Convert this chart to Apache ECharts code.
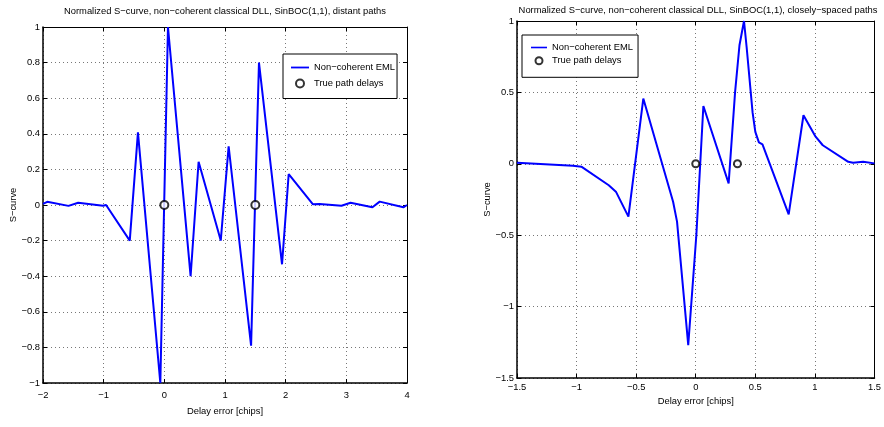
<!DOCTYPE html>
<html>
<head>
<meta charset="utf-8">
<script src="https://cdn.jsdelivr.net/npm/echarts@6/dist/echarts.min.js"></script>
<style>
html,body{margin:0;padding:0;background:#fff;}
#c{width:884px;height:427px;}
</style>
</head>
<body>
<div id="c"></div>
<script>
// ---------- data ----------
const leftTitle = 'Normalized S\u2212curve, non\u2212coherent classical DLL, SinBOC(1,1), distant paths';
const rightTitle = 'Normalized S\u2212curve, non\u2212coherent classical DLL, SinBOC(1,1), closely\u2212spaced paths';
const xName = 'Delay error [chips]';
const yName = 'S\u2212curve';
const lineName = 'Non\u2212coherent EML';
const pathName = 'True path delays';

const leftX = [-2, -1.93, -1.58, -1.42, -1.01, -0.96, -0.57, -0.435, -0.066, 0.06, 0.433, 0.565, 0.93, 1.06, 1.43, 1.56, 1.94, 2.05, 2.45, 2.56, 2.92, 3.07, 3.43, 3.55, 3.94, 4];
const leftY = [0.006, 0.018, -0.005, 0.013, -0.004, 0, -0.2, 0.408, -1, 1, -0.4, 0.243, -0.2, 0.33, -0.79, 0.8, -0.333, 0.174, 0.004, 0.006, -0.004, 0.013, -0.013, 0.019, -0.013, 0];
const leftDelays = [0, 1.5];

const rightX = [-1.5, -1.03, -0.96, -0.73, -0.67, -0.565, -0.44, -0.19, -0.157, -0.063, 0.005, 0.064, 0.276, 0.33, 0.367, 0.405, 0.427, 0.477, 0.5, 0.53, 0.56, 0.78, 0.904, 1.006, 1.066, 1.28, 1.32, 1.405, 1.5];
const rightY = [0.007, -0.014, -0.02, -0.15, -0.195, -0.37, 0.457, -0.266, -0.405, -1.27, -0.5, 0.405, -0.137, 0.5, 0.83, 1, 0.818, 0.36, 0.224, 0.15, 0.136, -0.354, 0.34, 0.19, 0.13, 0.014, 0.007, 0.014, 0.003];
const rightDelays = [0, 0.35];

const leftXTicks = {min: -2, max: 4, interval: 1};
const leftYTicks = {min: -1, max: 1, interval: 0.2};
const rightXTicks = {min: -1.5, max: 1.5, interval: 0.5};
const rightYTicks = {min: -1.5, max: 1, interval: 0.5};

// ---------- chart ----------
const FONT = "'Liberation Sans', Arial, Helvetica, sans-serif";
const FS = 9.4;
const fmt = v => { const r = Math.round(v * 10) / 10; return (r < 0 ? '\u2212' : '') + Math.abs(r); };
const zip = (xs, ys) => xs.map((x, i) => [x, ys[i]]);

function mainAxis(t, gridIndex, pos, extra, labelMargin) {
  return Object.assign({
    type: 'value', gridIndex, position: pos, min: t.min, max: t.max, interval: t.interval,
    axisLine: {show: true, onZero: false, lineStyle: {color: '#000', width: 1.5}},
    axisTick: {show: true, inside: true, length: 4, lineStyle: {color: '#000'}},
    axisLabel: {show: true, formatter: fmt, color: '#000', fontSize: FS, fontFamily: FONT, margin: labelMargin},
    splitLine: {show: true, lineStyle: {color: '#777', type: [1, 3], width: 1}},
    nameTextStyle: {color: '#000', fontSize: FS, fontFamily: FONT}
  }, extra || {});
}
function mirrorAxis(t, gridIndex, pos) {
  return {
    type: 'value', gridIndex, position: pos, min: t.min, max: t.max, interval: t.interval,
    axisLine: {show: true, onZero: false, lineStyle: {color: '#000', width: 1}},
    axisTick: {show: true, inside: true, length: 4, lineStyle: {color: '#000'}},
    axisLabel: {show: false}, splitLine: {show: false}
  };
}

const lineIcon = 'path://M0,0 M20,8 M0,3 L20,3 L20,5 L0,5 Z';

const chart = echarts.init(document.getElementById('c'), null, {renderer: 'canvas'});
chart.setOption({
  backgroundColor: '#fff',
  animation: false,
  grid: [
    {left: 43, top: 27, width: 364, height: 356, containLabel: false},
    {left: 517, top: 21, width: 363, height: 357, containLabel: false}
  ],
  xAxis: [
    mainAxis(leftXTicks, 0, 'bottom', {name: xName, nameLocation: 'middle', nameGap: 24}, 8),
    mirrorAxis(leftXTicks, 0, 'top'),
    mainAxis(rightXTicks, 1, 'bottom', {name: xName, nameLocation: 'middle', nameGap: 18}, 5),
    mirrorAxis(rightXTicks, 1, 'top')
  ],
  yAxis: [
    mainAxis(leftYTicks, 0, 'left', {name: yName, nameLocation: 'middle', nameGap: 25}, 3),
    mirrorAxis(leftYTicks, 0, 'right'),
    mainAxis(rightYTicks, 1, 'left', {name: yName, nameLocation: 'middle', nameGap: 25}, 3),
    mirrorAxis(rightYTicks, 1, 'right')
  ],
  legend: [
    {
      orient: 'vertical', left: 283, top: 54,
      backgroundColor: '#fff', borderColor: '#000', borderWidth: 1,
      padding: [9, 2, 10, 8], itemWidth: 18, itemHeight: 8, itemGap: 6.5,
      textStyle: {color: '#000', fontSize: FS, fontFamily: FONT},
      selectedMode: false,
      data: [{name: lineName, icon: lineIcon}, {name: pathName, icon: 'emptyCircle'}]
    },
    {
      orient: 'vertical', left: 522, top: 35,
      backgroundColor: '#fff', borderColor: '#000', borderWidth: 1,
      padding: [8, 5, 12, 9], itemWidth: 16, itemHeight: 7, itemGap: 4.3,
      textStyle: {color: '#000', fontSize: FS, fontFamily: FONT},
      selectedMode: false,
      data: [{name: lineName, icon: lineIcon}, {name: pathName, icon: 'emptyCircle'}]
    }
  ],
  graphic: [
    {type: 'text', x: 225, y: 11, style: {text: leftTitle, align: 'center', verticalAlign: 'middle', textAlign: 'center', textVerticalAlign: 'middle', fontSize: FS, fontFamily: FONT, fill: '#000'}},
    {type: 'text', x: 698, y: 10, style: {text: rightTitle, align: 'center', verticalAlign: 'middle', textAlign: 'center', textVerticalAlign: 'middle', fontSize: FS, fontFamily: FONT, fill: '#000'}}
  ],
  series: [
    {name: lineName, type: 'line', xAxisIndex: 0, yAxisIndex: 0, data: zip(leftX, leftY), symbol: 'none', lineStyle: {color: '#0000ff', width: 2}, itemStyle: {color: '#0000ff'}, z: 3},
    {name: pathName, type: 'scatter', xAxisIndex: 0, yAxisIndex: 0, data: leftDelays.map(x => [x, 0]), symbol: 'emptyCircle', symbolSize: 8, itemStyle: {color: '#000', borderColor: '#000', borderWidth: 2}, z: 4},
    {name: lineName, type: 'line', xAxisIndex: 2, yAxisIndex: 2, data: zip(rightX, rightY), symbol: 'none', lineStyle: {color: '#0000ff', width: 2}, itemStyle: {color: '#0000ff'}, z: 3},
    {name: pathName, type: 'scatter', xAxisIndex: 2, yAxisIndex: 2, data: rightDelays.map(x => [x, 0]), symbol: 'emptyCircle', symbolSize: 7, itemStyle: {color: '#000', borderColor: '#000', borderWidth: 1.8}, z: 4}
  ]
});
</script>
</body>
</html>
